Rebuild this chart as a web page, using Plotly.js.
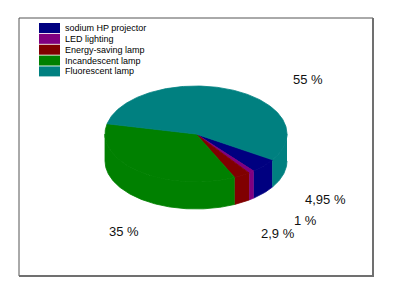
<!DOCTYPE html>
<html><head><meta charset="utf-8">
<script src="https://cdn.plot.ly/plotly-3.0.1.min.js"></script>
<style>html,body{margin:0;padding:0;background:#fff}#chart{width:410px;height:289px}</style>
</head><body><div id="chart"></div>
<script>
// ---- data ----
const categories = ['sodium HP projector', 'LED lighting', 'Energy-saving lamp', 'Incandescent lamp', 'Fluorescent lamp'];
const shares = [4.95, 1, 2.9, 35, 55];
const valueLabels = ['4,95 %', '1 %', '2,9 %', '35 %', '55 %'];

// ---- style ----
const colors = ['#000080', '#800080', '#800000', '#008000', '#008080'];
const geom = {cx: 196, cy: 134, rx: 91, ry: 48, depth: 27, start: 32.6, step: 1};
const labelNudge = [[41.5, -3], [37, 10.5], [22, 18.5], [1.3, 21.3], [67.3, 2.7]];
const FONT = 'Liberation Sans, Arial, sans-serif';

const rad = d => d * Math.PI / 180;
function pt(t, dz) {
  return [geom.cx + geom.rx * Math.cos(rad(t)), geom.cy + geom.ry * Math.sin(rad(t)) + dz];
}
function arc(a, b, dz) {
  const out = [];
  const n = Math.max(2, Math.ceil(Math.abs(b - a) / geom.step));
  for (let i = 0; i <= n; i++) out.push(pt(a + (b - a) * i / n, dz));
  return out;
}
function polyTrace(points, color) {
  return {
    type: 'scatter', mode: 'lines', fill: 'toself', fillcolor: color,
    line: {color: color, width: 0.8},
    x: points.map(p => p[0]), y: points.map(p => p[1]),
    hoverinfo: 'skip', showlegend: false
  };
}

const total = shares.reduce((s, v) => s + v, 0);
const sideTraces = [], topTraces = [], annotations = [], shapes = [];
let acc = geom.start;
shares.forEach((v, i) => {
  const a = acc, b = acc + v / total * 360;
  acc = b;
  // visible front side wall (screen angles 0..180, y pointing down)
  [0, 360].forEach(k => {
    const lo = Math.max(a - k, 0), hi = Math.min(b - k, 180);
    if (lo < hi) {
      const pts = arc(lo, hi, 0).concat(arc(hi, lo, geom.depth));
      sideTraces.push(polyTrace(pts, colors[i]));
    }
  });
  // top face wedge
  const top = [[geom.cx, geom.cy]].concat(arc(a, b, 0)).concat([[geom.cx, geom.cy]]);
  topTraces.push(polyTrace(top, colors[i]));
  // value label
  const m = (a + b) / 2;
  const s = Math.sin(rad(m));
  const bx = geom.cx + geom.rx * 1.3 * Math.cos(rad(m)) + labelNudge[i][0];
  const by = geom.cy + geom.ry * 1.3 * s + (s > 0 ? geom.depth : 0) + labelNudge[i][1];
  annotations.push({
    x: bx, y: by, xref: 'x', yref: 'y', text: valueLabels[i], showarrow: false,
    xanchor: 'center', yanchor: 'middle',
    font: {family: FONT, size: 13, color: '#111'}
  });
});

// legend (drawn manually to match the boxed swatches)
const legX = 39, legY = 23, legPitch = 10.85;
categories.forEach((c, i) => {
  const y0 = legY + i * legPitch;
  shapes.push({type: 'rect', xref: 'x', yref: 'y', x0: legX, x1: legX + 21, y0: y0, y1: y0 + 10,
    fillcolor: colors[i], line: {width: 0}, layer: 'above'});
  annotations.push({x: legX + 24, y: y0 + 5, xref: 'x', yref: 'y', text: c, showarrow: false,
    xanchor: 'left', yanchor: 'middle', font: {family: FONT, size: 9, color: '#000'}});
});

// frame
shapes.push({type: 'rect', xref: 'x', yref: 'y', x0: 19, x1: 373, y0: 18, y1: 276,
  line: {color: '#555', width: 1}, layer: 'below'});
shapes.push({type: 'line', xref: 'x', yref: 'y', x0: 373, x1: 373, y0: 18, y1: 276.5,
  line: {color: '#707070', width: 2}});
shapes.push({type: 'line', xref: 'x', yref: 'y', x0: 19, x1: 374, y0: 276, y1: 276,
  line: {color: '#707070', width: 2}});

const layout = {
  width: 410, height: 289,
  margin: {l: 0, r: 0, t: 0, b: 0, pad: 0},
  paper_bgcolor: '#fff', plot_bgcolor: 'rgba(0,0,0,0)',
  xaxis: {range: [0, 410], visible: false, fixedrange: true},
  yaxis: {range: [289, 0], visible: false, fixedrange: true},
  showlegend: false,
  shapes: shapes, annotations: annotations
};
Plotly.newPlot('chart', sideTraces.concat(topTraces), layout, {staticPlot: true, displayModeBar: false});
</script></body></html>
